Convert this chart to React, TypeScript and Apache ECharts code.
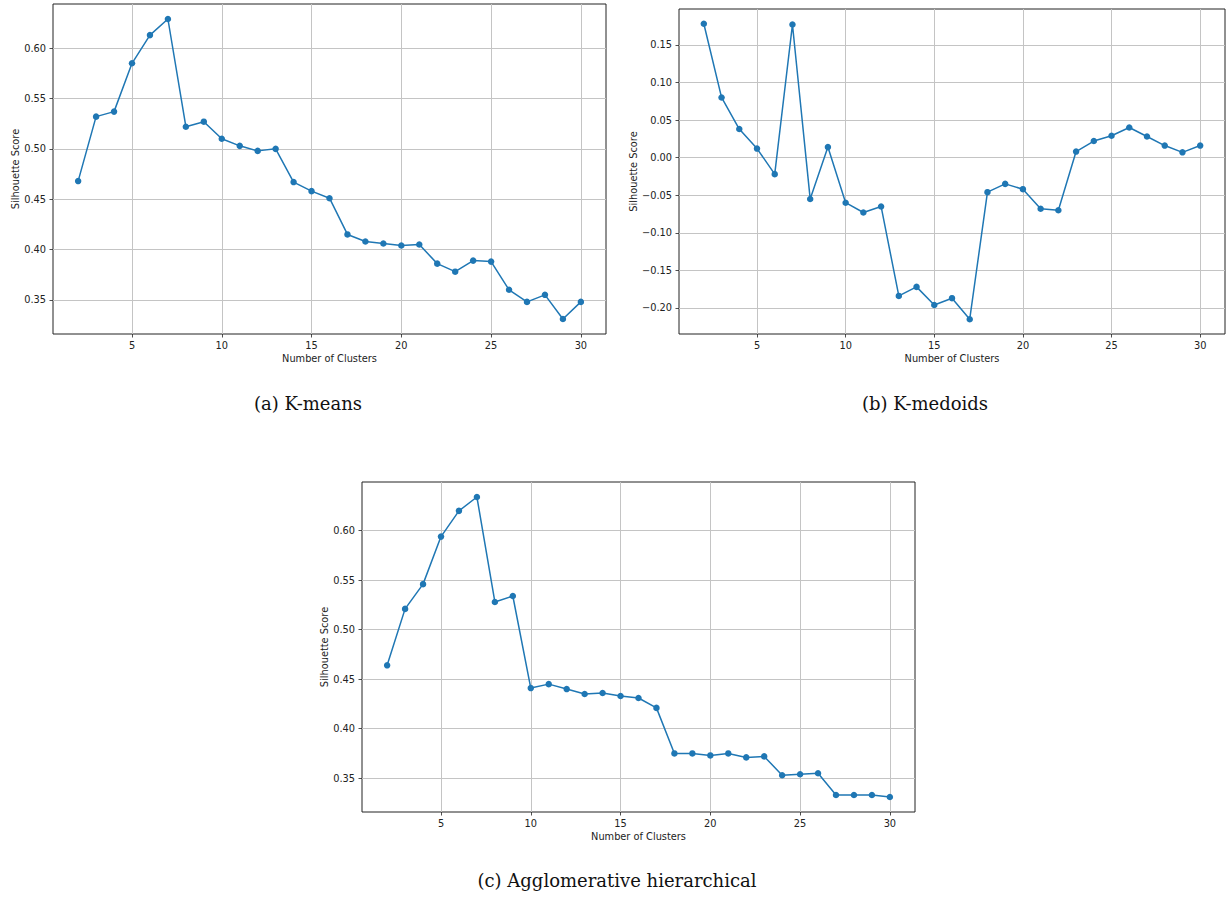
import React, { useEffect, useRef } from "react";
import * as echarts from "echarts";

// ---- Data ----
const clusters = [2, 3, 4, 5, 6, 7, 8, 9, 10, 11, 12, 13, 14, 15, 16, 17, 18, 19, 20, 21, 22, 23, 24, 25, 26, 27, 28, 29, 30];

const kmeansScores = [
  0.468, 0.532, 0.537, 0.585, 0.613, 0.629, 0.522, 0.527, 0.510, 0.503,
  0.498, 0.500, 0.467, 0.458, 0.451, 0.415, 0.408, 0.406, 0.404, 0.405,
  0.386, 0.378, 0.389, 0.388, 0.360, 0.348, 0.355, 0.331, 0.348,
];

const kmedoidsScores = [
  0.178, 0.080, 0.038, 0.012, -0.022, 0.177, -0.055, 0.014, -0.060, -0.073,
  -0.065, -0.184, -0.172, -0.196, -0.187, -0.215, -0.046, -0.035, -0.042, -0.068,
  -0.070, 0.008, 0.022, 0.029, 0.040, 0.028, 0.016, 0.007, 0.016,
];

const agglomerativeScores = [
  0.464, 0.521, 0.546, 0.594, 0.620, 0.634, 0.528, 0.534, 0.441, 0.445,
  0.440, 0.435, 0.436, 0.433, 0.431, 0.421, 0.375, 0.375, 0.373, 0.375,
  0.371, 0.372, 0.353, 0.354, 0.355, 0.333, 0.333, 0.333, 0.331,
];

const xTickValues = [5, 10, 15, 20, 25, 30];
const kmeansYTicks = [0.35, 0.4, 0.45, 0.5, 0.55, 0.6];
const kmedoidsYTicks = [-0.2, -0.15, -0.1, -0.05, 0, 0.05, 0.1, 0.15];
const agglomerativeYTicks = [0.35, 0.4, 0.45, 0.5, 0.55, 0.6];

const captions = ["(a) K-means", "(b) K-medoids", "(c) Agglomerative hierarchical"];
const xAxisName = "Number of Clusters";
const yAxisName = "Silhouette Score";

// ---- Layout / style ----
const W = 1226;
const H = 898;
const LINE = "#1f77b4";
const INK = "#222222";
const GRIDC = "#c4c4c4";
const FS = 9.8;
const SANS = "DejaVu Sans";

const panels = [
  { scores: kmeansScores, yTicks: kmeansYTicks, grid: { left: 53, top: 4, width: 553, height: 330 }, yNameGap: 33, caption: { x: 308, y: 403 } },
  { scores: kmedoidsScores, yTicks: kmedoidsYTicks, grid: { left: 679, top: 9, width: 546, height: 325 }, yNameGap: 41, caption: { x: 925, y: 403 } },
  { scores: agglomerativeScores, yTicks: agglomerativeYTicks, grid: { left: 362, top: 482, width: 553, height: 330 }, yNameGap: 33, caption: { x: 617, y: 880 } },
];

function padded(values: number[]): [number, number] {
  const lo = Math.min(...values);
  const hi = Math.max(...values);
  const m = (hi - lo) * 0.05;
  return [lo - m, hi + m];
}

const fmtY = (v: number) => v.toFixed(2).replace("-", "\u2212");

export default function App() {
  const ref = useRef<HTMLDivElement>(null);

  useEffect(() => {
    if (!ref.current) return;
    const chart = echarts.init(ref.current, null, { renderer: "svg", width: W, height: H });
    const [xMin, xMax] = padded(clusters);

    const grids: any[] = [];
    const xAxes: any[] = [];
    const yAxes: any[] = [];
    const series: any[] = [];
    const graphics: any[] = [];

    panels.forEach((p, i) => {
      const [yMin, yMax] = padded(p.scores);
      grids.push({ ...p.grid, show: true, borderColor: INK, borderWidth: 1, backgroundColor: "transparent", containLabel: false });
      xAxes.push({
        type: "value",
        gridIndex: i,
        min: xMin,
        max: xMax,
        splitNumber: 6,
        name: xAxisName,
        nameLocation: "middle",
        nameGap: 19,
        nameTextStyle: { fontSize: FS, color: INK, fontFamily: SANS },
        axisLine: { show: false, onZero: false },
        axisTick: { show: true, inside: false, length: 3.5, customValues: xTickValues, lineStyle: { color: INK, width: 0.8 } },
        axisLabel: { customValues: xTickValues, margin: 6, fontSize: FS, color: INK, fontFamily: SANS, formatter: (v: number) => String(v) },
        splitLine: { show: true, lineStyle: { color: GRIDC, width: 1 } },
      });
      yAxes.push({
        type: "value",
        gridIndex: i,
        min: yMin,
        max: yMax,
        splitNumber: p.yTicks.length,
        name: yAxisName,
        nameLocation: "middle",
        nameGap: p.yNameGap,
        nameRotate: 90,
        nameTextStyle: { fontSize: FS, color: INK, fontFamily: SANS },
        axisLine: { show: false, onZero: false },
        axisTick: { show: true, inside: false, length: 3.5, customValues: p.yTicks, lineStyle: { color: INK, width: 0.8 } },
        axisLabel: { customValues: p.yTicks, margin: 7, fontSize: FS, color: INK, fontFamily: SANS, formatter: fmtY },
        splitLine: { show: true, lineStyle: { color: GRIDC, width: 1 } },
      });
      series.push({
        type: "line",
        xAxisIndex: i,
        yAxisIndex: i,
        data: clusters.map((c, j) => [c, p.scores[j]]),
        symbol: "circle",
        symbolSize: 6.5,
        showSymbol: true,
        itemStyle: { color: LINE },
        lineStyle: { color: LINE, width: 1.5 },
        z: 5,
      });
      graphics.push({
        type: "text",
        x: p.caption.x,
        y: p.caption.y,
        style: { text: captions[i], fontSize: 18, fontFamily: "DejaVu Serif", fill: "#111", align: "center", verticalAlign: "middle" },
      });
    });

    chart.setOption({
      animation: false,
      backgroundColor: "#ffffff",
      grid: grids,
      xAxis: xAxes,
      yAxis: yAxes,
      series,
      graphic: graphics,
    });

    return () => chart.dispose();
  }, []);

  return <div ref={ref} style={{ position: "absolute", left: 0, top: 0, width: W, height: H }} />;
}
